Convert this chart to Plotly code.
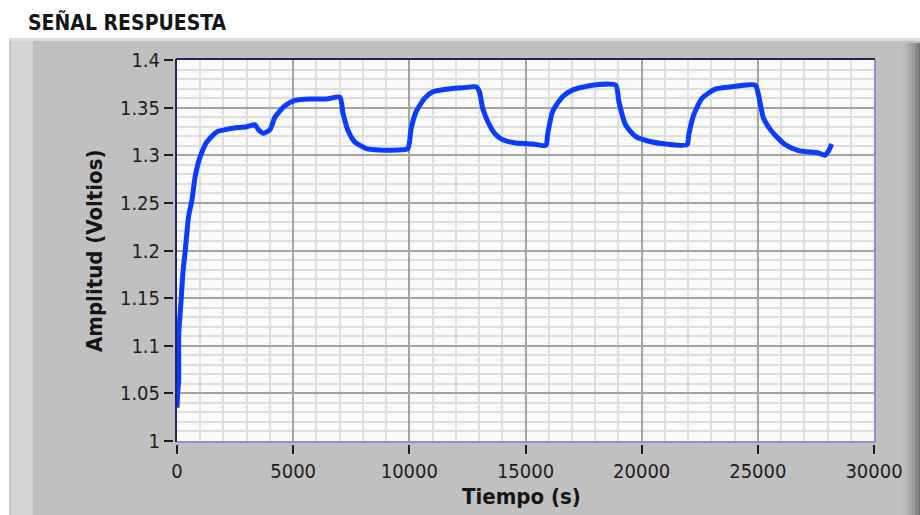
import plotly.graph_objects as go

# ---------------- data ----------------
time_s = [0, 30, 70, 75, 170, 257, 356, 500, 643, 785, 1000, 1287, 1716, 2287, 3003,
          3360, 3500, 3716, 4003, 4217, 4646, 5075, 5718, 6435, 7006, 7147, 7362, 7650,
          8150, 8720, 9437, 9935, 10080, 10295, 10652, 11010, 11584, 12300, 12873,
          13016, 13159, 13374, 13660, 14017, 14590, 15306, 15880, 15950, 16165, 16594,
          17023, 17880, 18884, 19017, 19305, 19734, 20450, 21022, 21954, 22025, 22240,
          22597, 23169, 23885, 24886, 25031, 25246, 25603, 26175, 26748, 27606, 27892,
          28050, 28180]
amplitude_v = [1.035, 1.05, 1.0625, 1.111, 1.146, 1.177, 1.200, 1.236, 1.253, 1.278,
               1.2985, 1.314, 1.3246, 1.328, 1.330, 1.332, 1.327, 1.323, 1.327, 1.340,
               1.352, 1.3576, 1.359, 1.359, 1.361, 1.344, 1.326, 1.314, 1.307, 1.3055,
               1.3055, 1.307, 1.3285, 1.3458, 1.3597, 1.3667, 1.3694, 1.3708, 1.3719,
               1.3667, 1.3493, 1.3354, 1.3233, 1.3163, 1.3128, 1.3118, 1.3104, 1.3215,
               1.3458, 1.3615, 1.3684, 1.3736, 1.3736, 1.3563, 1.332, 1.3198, 1.3139,
               1.3118, 1.3111, 1.3215, 1.3424, 1.3597, 1.3694, 1.3719, 1.3736, 1.3632,
               1.3389, 1.325, 1.3111, 1.3049, 1.3024, 1.300, 1.305, 1.3118]

x_tick_values = [0, 5000, 10000, 15000, 20000, 25000, 30000]
x_tick_labels = ["0", "5000", "10000", "15000", "20000", "25000", "30000"]
y_tick_values = [1.0, 1.05, 1.1, 1.15, 1.2, 1.25, 1.3, 1.35, 1.4]
y_tick_labels = ["1", "1.05", "1.1", "1.15", "1.2", "1.25", "1.3", "1.35", "1.4"]

chart_title = "SEÑAL RESPUESTA"
x_title = "Tiempo (s)"
y_title = "Amplitud (Voltios)"

# ---------------- layout helpers ----------------
W, H = 920, 515
L, R, T, B = 177, 874, 60, 441  # plot area in pixels


def px(xp):
    return (xp - L) / (R - L)


def py(yp):
    return (B - yp) / (B - T)


FONT = "DejaVu Sans Condensed, Liberation Sans, sans-serif"

fig = go.Figure()
fig.add_trace(go.Scatter(x=time_s, y=amplitude_v, mode="lines",
                         line=dict(color="#0a3cff", width=5, shape="spline", smoothing=0.6),
                         hoverinfo="skip", showlegend=False))

shapes = []
# white margin strips
shapes.append(dict(type="rect", xref="paper", yref="paper", x0=px(0), x1=px(W),
                   y0=py(38), y1=py(0), fillcolor="#ffffff", line_width=0, layer="below"))
shapes.append(dict(type="rect", xref="paper", yref="paper", x0=px(0), x1=px(9),
                   y0=py(H), y1=py(0), fillcolor="#ffffff", line_width=0, layer="below"))
# top edge highlight of panel
shapes.append(dict(type="rect", xref="paper", yref="paper", x0=px(9), x1=px(W),
                   y0=py(41), y1=py(38), fillcolor="#dcdcdc", line_width=0, layer="below"))
# left light band
shapes.append(dict(type="rect", xref="paper", yref="paper", x0=px(9), x1=px(11),
                   y0=py(H), y1=py(41), fillcolor="#c8c8c8", line_width=0, layer="below"))
shapes.append(dict(type="rect", xref="paper", yref="paper", x0=px(11), x1=px(33),
                   y0=py(H), y1=py(41), fillcolor="#d4d4d4", line_width=0, layer="below"))
# right dark gradient edge
grad = [(903, "#bbbbbb"), (906, "#b2b2b2"), (909, "#a6a6a6"), (912, "#999999"),
        (915, "#8a8a8a"), (918, "#777777")]
for i, (x0, c) in enumerate(grad):
    x1 = grad[i + 1][0] if i + 1 < len(grad) else W
    shapes.append(dict(type="rect", xref="paper", yref="paper", x0=px(x0), x1=px(x1),
                       y0=py(H), y1=py(43), fillcolor=c, line_width=0, layer="below"))
# plot borders (3D inset look)
dark, light = "#23235e", "#8e8ed4"
shapes.append(dict(type="line", xref="paper", yref="paper", x0=px(L - 1), x1=px(R + 1),
                   y0=py(T - 1), y1=py(T - 1), line=dict(color=dark, width=2), layer="above"))
shapes.append(dict(type="line", xref="paper", yref="paper", x0=px(L - 1), x1=px(L - 1),
                   y0=py(B + 1), y1=py(T - 1), line=dict(color=dark, width=2), layer="above"))
shapes.append(dict(type="line", xref="paper", yref="paper", x0=px(R + 1), x1=px(R + 1),
                   y0=py(B + 1), y1=py(T), line=dict(color=light, width=2), layer="above"))
shapes.append(dict(type="line", xref="paper", yref="paper", x0=px(L), x1=px(R + 2),
                   y0=py(B + 1), y1=py(B + 1), line=dict(color=light, width=2), layer="above"))

annotations = [
    dict(text=f"<b>{chart_title}</b>", xref="paper", yref="paper", x=px(26), y=py(22),
         xanchor="left", yanchor="middle", showarrow=False,
         font=dict(family=FONT, size=21, color="#151515")),
    dict(text=f"<b>{x_title}</b>", xref="paper", yref="paper", x=px(521), y=py(497),
         xanchor="center", yanchor="middle", showarrow=False,
         font=dict(family=FONT, size=22, color="#151515")),
    dict(text=f"<b>{y_title}</b>", xref="paper", yref="paper", x=px(95), y=py(251),
         xanchor="center", yanchor="middle", showarrow=False, textangle=-90,
         font=dict(family=FONT, size=22, color="#151515")),
]

axis_common = dict(showline=True, linecolor="#c0c0c0", linewidth=4,
                   ticks="outside", ticklen=9, tickwidth=2, tickcolor="#1e1e1e",
                   tickfont=dict(family=FONT, size=20, color="#1e1e1e"),
                   showgrid=True, gridcolor="#a4a4a4", gridwidth=1.6,
                   zeroline=False, fixedrange=True)

fig.update_layout(
    width=W, height=H,
    margin=dict(l=L, r=W - R, t=T, b=H - B, pad=0),
    paper_bgcolor="#c0c0c0",
    plot_bgcolor="#fafafa",
    shapes=shapes,
    annotations=annotations,
    xaxis=dict(range=[0, 30000], tickmode="array", tickvals=x_tick_values,
               ticktext=x_tick_labels,
               minor=dict(dtick=1000, tick0=0, showgrid=True, gridcolor="#dedede",
                          gridwidth=1.6, ticks=""),
               **axis_common),
    yaxis=dict(range=[1.0, 1.4], tickmode="array", tickvals=y_tick_values,
               ticktext=y_tick_labels,
               minor=dict(dtick=0.01, tick0=1.0, showgrid=True, gridcolor="#dedede",
                          gridwidth=1.6, ticks=""),
               **axis_common),
)

fig.write_html("out.html", config={"displayModeBar": False})
